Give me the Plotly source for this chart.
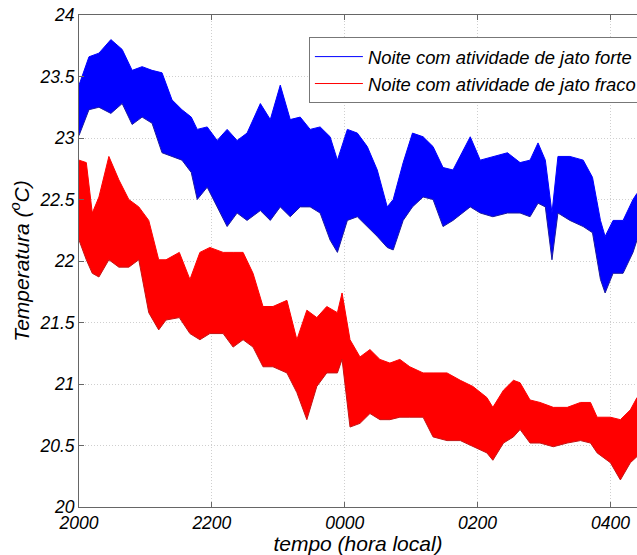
import plotly.graph_objects as go

# time in hours after 20:00 local
tick_vals = [0, 2, 4, 6, 8]
tick_text = ["2000", "2200", "0000", "0200", "0400"]

# "Noite com atividade de jato forte" - envelope of the fast fluctuations (degC)
t_forte = [0, .15, .30, .48, .65, .80, .95, 1.10, 1.25, 1.40, 1.55, 1.69, 1.78, 1.93, 2.08,
           2.23, 2.38, 2.53, 2.73, 2.88, 3.03, 3.18, 3.33, 3.48, 3.63, 3.78, 3.89, 4.04, 4.19,
           4.34, 4.49, 4.64, 4.73, 4.88, 5.02, 5.18, 5.33, 5.48, 5.63, 5.89, 6.04, 6.23, 6.45,
           6.64, 6.79, 6.91, 7.02, 7.12, 7.21, 7.39, 7.59, 7.73, 7.85, 7.92, 8.04, 8.19, 8.34, 8.40]
sup_forte = [23.43, 23.66, 23.69, 23.80, 23.72, 23.55, 23.58, 23.55, 23.53, 23.31, 23.23, 23.17,
             23.07, 23.09, 22.98, 23.07, 22.98, 23.04, 23.28, 23.15, 23.43, 23.15, 23.17, 23.07,
             23.09, 23.01, 22.82, 23.07, 23.04, 22.93, 22.74, 22.44, 22.50, 22.80, 23.04, 23.01,
             22.93, 22.76, 22.74, 23.01, 22.82, 22.85, 22.88, 22.80, 22.82, 22.96, 22.82, 22.39,
             22.85, 22.85, 22.82, 22.68, 22.33, 22.20, 22.33, 22.33, 22.50, 22.55]
inf_forte = [23.02, 23.23, 23.25, 23.20, 23.28, 23.11, 23.17, 23.12, 22.88, 22.85, 22.82, 22.72,
             22.50, 22.60, 22.44, 22.28, 22.39, 22.33, 22.41, 22.33, 22.44, 22.36, 22.44, 22.44,
             22.39, 22.17, 22.07, 22.33, 22.36, 22.28, 22.20, 22.11, 22.09, 22.33, 22.44, 22.52,
             22.50, 22.28, 22.33, 22.44, 22.39, 22.36, 22.39, 22.39, 22.36, 22.47, 22.44, 22.01,
             22.39, 22.33, 22.28, 22.23, 21.85, 21.74, 21.90, 21.90, 22.07, 22.17]

# "Noite com atividade de jato fraco"
t_fraco = [0, .11, .20, .30, .45, .60, .75, .90, 1.05, 1.20, 1.31, 1.51, 1.67, 1.82, 1.97, 2.17,
           2.32, 2.47, 2.62, 2.77, 2.92, 3.13, 3.28, 3.43, 3.58, 3.73, 3.89, 3.96, 4.08, 4.23,
           4.38, 4.53, 4.68, 4.83, 4.98, 5.18, 5.33, 5.54, 5.74, 5.93, 6.14, 6.23, 6.39, 6.54,
           6.64, 6.79, 6.94, 7.14, 7.35, 7.55, 7.70, 7.80, 8.00, 8.15, 8.30, 8.40]
sup_fraco = [22.82, 22.80, 22.39, 22.52, 22.85, 22.66, 22.50, 22.44, 22.33, 22.01, 22.01, 22.07,
             21.85, 22.07, 22.11, 22.07, 22.07, 22.07, 21.90, 21.63, 21.63, 21.68, 21.36, 21.60,
             21.54, 21.63, 21.58, 21.74, 21.36, 21.22, 21.28, 21.20, 21.17, 21.20, 21.14, 21.09,
             21.09, 21.09, 21.03, 20.98, 20.89, 20.81, 20.95, 21.03, 21.01, 20.87, 20.85, 20.81,
             20.81, 20.85, 20.85, 20.73, 20.73, 20.71, 20.79, 20.89]
inf_fraco = [22.17, 22.01, 21.90, 21.87, 22.01, 21.95, 21.95, 22.01, 21.58, 21.44, 21.52, 21.54,
             21.41, 21.36, 21.41, 21.41, 21.30, 21.36, 21.30, 21.14, 21.14, 21.09, 20.93, 20.71,
             20.98, 21.09, 21.09, 21.20, 20.65, 20.68, 20.76, 20.71, 20.71, 20.73, 20.73, 20.73,
             20.57, 20.54, 20.54, 20.49, 20.44, 20.38, 20.52, 20.57, 20.63, 20.52, 20.52, 20.49,
             20.52, 20.54, 20.52, 20.44, 20.36, 20.22, 20.36, 20.41]

series = [
    ("Noite com atividade de jato forte", t_forte, sup_forte, inf_forte, "#0000ff", "#1a1aa0"),
    ("Noite com atividade de jato fraco", t_fraco, sup_fraco, inf_fraco, "#ff0000", "#c41414"),
]

fig = go.Figure()
for name, t, hi, lo, fillc, edge in series:
    fig.add_trace(go.Scatter(x=t, y=hi, mode="lines", name=name,
                             line=dict(color=fillc, width=1)))
    fig.add_trace(go.Scatter(x=t, y=lo, mode="lines", name=name,
                             showlegend=False, fill="tonexty", fillcolor=fillc,
                             line=dict(color=edge, width=1)))

axis_common = dict(showline=True, linecolor="#666", linewidth=1, ticks="inside",
                   ticklen=5, tickcolor="#666", showgrid=True, gridcolor="#cfcfcf",
                   griddash="1px,2px", gridwidth=1, zeroline=False)

fig.update_xaxes(range=[0, 8.40], tickvals=tick_vals, ticktext=tick_text, mirror="ticks",
                 title=dict(text="tempo (hora local)", standoff=0), **axis_common)
fig.update_yaxes(range=[20, 24], dtick=0.5, tick0=20, mirror=False,
                 title=dict(text="Temperatura (<sup>o</sup>C)", standoff=4), **axis_common)

fig.update_layout(
    width=637, height=555,
    margin=dict(l=79, r=0, t=15, b=48, autoexpand=False),
    paper_bgcolor="white", plot_bgcolor="white",
    font=dict(family="Liberation Sans, Arial, sans-serif", size=17.5, color="black",
              style="italic"),
    showlegend=True,
    legend=dict(x=0.412, y=0.955, xanchor="left", yanchor="top", bgcolor="white",
                bordercolor="#777", borderwidth=1, itemwidth=48, traceorder="normal",
                font=dict(size=18.4, style="italic"), tracegroupgap=0),
)

fig.write_html("out.html")
